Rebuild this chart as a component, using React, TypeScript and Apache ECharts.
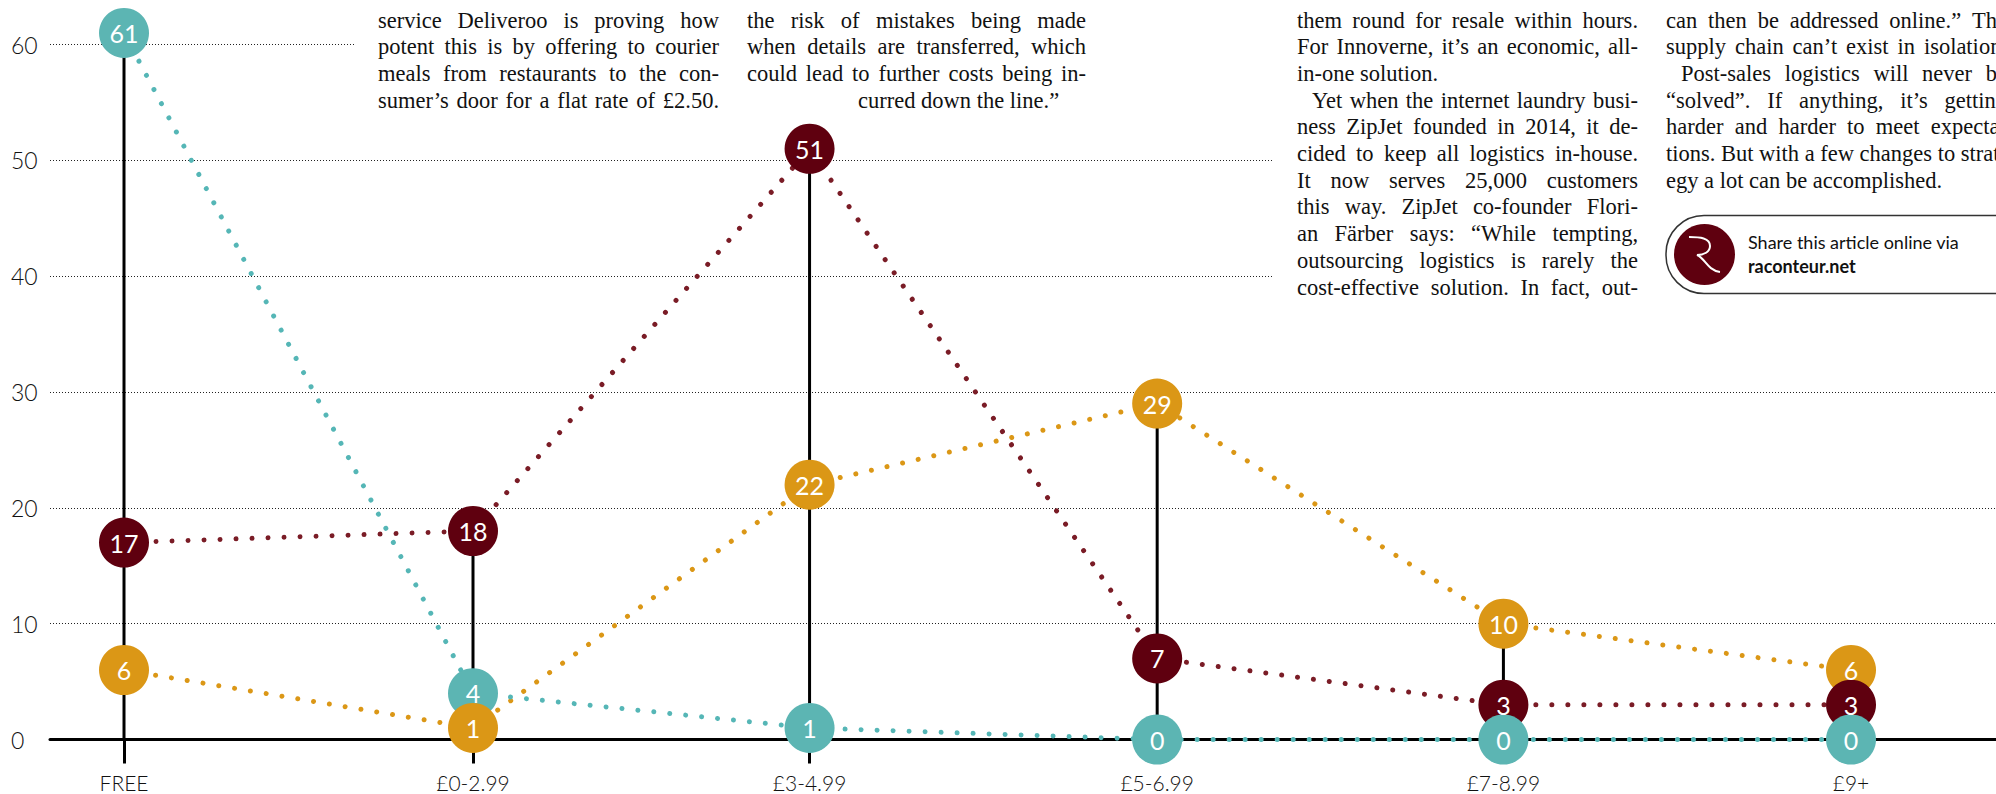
import React, { useEffect, useRef } from "react";
import * as echarts from "echarts";

// Delivery price bands and the share of respondents for each retailer group.
const priceBands = ["FREE", "£0-2.99", "£3-4.99", "£5-6.99", "£7-8.99", "£9+"];
const bandAxisValues = [0, 1.011, 1.986, 2.993, 3.996, 5.003];
const tealValues = [61, 4, 1, 0, 0, 0];
const maroonValues = [17, 18, 51, 7, 3, 3];
const amberValues = [6, 1, 22, 29, 10, 6];
const yTicks = [0, 10, 20, 30, 40, 50, 60];

const TEAL = "#5cb5b3";
const MAROON = "#5f000f";
const AMBER = "#db9716";
const SANS = "Lato, sans-serif";
const SERIF = '"Liberation Serif", serif';
const INK = "#111111";

// Article columns running around the chart. "~" marks a justified line.
const columnOne = [
  "~service Deliveroo is proving how",
  "~potent this is by offering to courier",
  "~meals from restaurants to the con-",
  "~sumer’s door for a flat rate of £2.50.",
];
const columnTwo = [
  "~the risk of mistakes being made",
  "~when details are transferred, which",
  "~could lead to further costs being in-",
];
const columnTwoEnd = "curred down the line.”";
const columnThree = [
  "~them round for resale within hours.",
  "~For Innoverne, it’s an economic, all-",
  "in-one solution.",
  ">~Yet when the internet laundry busi-",
  "~ness ZipJet founded in 2014, it de-",
  "~cided to keep all logistics in-house.",
  "~It now serves 25,000 customers",
  "~this way. ZipJet co-founder Flori-",
  "~an Färber says: “While tempting,",
  "~outsourcing logistics is rarely the",
  "~cost-effective solution. In fact, out-",
];
const columnFour = [
  "~can then be addressed online.” The",
  "~supply chain can’t exist in isolation.",
  ">~Post-sales logistics will never be",
  "~“solved”. If anything, it’s getting",
  "~harder and harder to meet expecta-",
  "~tions. But with a few changes to strat-",
  "egy a lot can be accomplished.",
];

const BODY_SIZE = 22.5;
const LINE_STEP = 26.7;
const FIRST_LINE_Y = 20;

echarts.graphic.registerShape(
  "raconteurMark",
  echarts.graphic.extendPath(
    "M1689 237 C1700 237 1710 238 1710 246 C1710 252 1704 255 1697 255 C1705 258 1707 270 1720 272",
    {}
  )
);

// Lays a column out word by word so that justified lines reach both edges.
function columnWords(lines: string[], left: number, width: number, top: number) {
  const ctx = document.createElement("canvas").getContext("2d")!;
  ctx.font = `${BODY_SIZE}px ${SERIF}`;
  const items: any[] = [];
  lines.forEach((raw, row) => {
    const indent = raw.startsWith(">") ? 15 : 0;
    const justified = raw.includes("~");
    const words = raw.replace(/[>~]/g, "").split(" ");
    const widths = words.map((w) => ctx.measureText(w).width);
    const total = widths.reduce((a, b) => a + b, 0);
    const space = ctx.measureText(" ").width;
    const gap =
      justified && words.length > 1 ? (width - indent - total) / (words.length - 1) : space;
    let x = left + indent;
    words.forEach((word, i) => {
      items.push({
        type: "text",
        x,
        y: top + row * LINE_STEP,
        z: 5,
        style: {
          text: word,
          fill: INK,
          font: `${BODY_SIZE}px ${SERIF}`,
          verticalAlign: "middle",
        },
      });
      x += widths[i] + gap;
    });
  });
  return items;
}

function buildOption() {
  const dottedLine = (name: string, values: number[], color: string, z: number) => ({
    name,
    type: "line",
    z,
    clip: false,
    silent: true,
    showSymbol: false,
    symbol: "none",
    data: values.map((v, i) => [bandAxisValues[i], v]),
    lineStyle: { color, width: 5, type: [0.01, 16], cap: "round" },
  });

  // Circles are drawn tallest value first, so lower values sit on top.
  const markers = [
    ...tealValues.map((v, i) => ({ v, i, color: TEAL })),
    ...maroonValues.map((v, i) => ({ v, i, color: MAROON })),
    ...amberValues.map((v, i) => ({ v, i, color: AMBER })),
  ].sort((a, b) => b.v - a.v);

  const stems = priceBands.map((_, i) => [
    bandAxisValues[i],
    Math.max(tealValues[i], maroonValues[i], amberValues[i]),
  ]);

  return {
    animation: false,
    backgroundColor: "#ffffff",
    grid: { left: 50, right: 0, top: 44.5, bottom: 54.5, outerBoundsMode: "none" },
    xAxis: {
      type: "value",
      min: -0.2144,
      max: 5.423,
      splitLine: { show: false },
      axisLine: { show: true, lineStyle: { color: "#000", width: 3 } },
      axisTick: {
        show: true,
        customValues: bandAxisValues,
        length: 24,
        lineStyle: { color: "#000", width: 3 },
      },
      axisLabel: {
        customValues: bandAxisValues,
        margin: 32,
        fontFamily: SANS,
        fontWeight: 300,
        fontSize: 21,
        color: INK,
        formatter: (value: number) => {
          const i = bandAxisValues.findIndex((b) => Math.abs(b - value) < 1e-6);
          return priceBands[i] ?? "";
        },
      },
    },
    yAxis: {
      type: "value",
      min: yTicks[0],
      max: yTicks[yTicks.length - 1],
      interval: 10,
      axisLine: { show: false },
      axisTick: { show: false },
      axisLabel: {
        margin: 39,
        align: "left",
        fontFamily: SANS,
        fontWeight: 300,
        fontSize: 23,
        color: INK,
      },
      splitLine: { show: true, lineStyle: { color: "#222", width: 1, type: [1, 2] } },
    },
    graphic: [
      // The article columns sit on plain white panels that stop the rules.
      { type: "rect", z: 1, shape: { x: 355, y: 0, width: 1641, height: 100 }, style: { fill: "#fff" } },
      { type: "rect", z: 1, shape: { x: 1273, y: 100, width: 723, height: 200 }, style: { fill: "#fff" } },
      ...columnWords(columnOne, 378, 341, FIRST_LINE_Y),
      ...columnWords(columnTwo, 747, 339, FIRST_LINE_Y),
      {
        type: "text",
        x: 858,
        y: FIRST_LINE_Y + 3 * LINE_STEP,
        z: 5,
        style: {
          text: columnTwoEnd,
          fill: INK,
          font: `${BODY_SIZE}px ${SERIF}`,
          verticalAlign: "middle",
        },
      },
      ...columnWords(columnThree, 1297, 341, FIRST_LINE_Y),
      ...columnWords(columnFour, 1666, 341, FIRST_LINE_Y),
      {
        type: "rect",
        z: 5,
        shape: { x: 1666, y: 215.5, width: 400, height: 78, r: 38 },
        style: { fill: "#fff", stroke: "#333", lineWidth: 1.5 },
      },
      { type: "circle", z: 6, shape: { cx: 1704.5, cy: 254.5, r: 30.5 }, style: { fill: MAROON } },
      {
        type: "raconteurMark",
        z: 7,
        style: { fill: "none", stroke: "#fff", lineWidth: 2 },
      },
      {
        type: "text",
        x: 1748,
        y: 242,
        z: 6,
        style: {
          text: "Share this article online via",
          fill: INK,
          font: `400 18px ${SANS}`,
          verticalAlign: "middle",
        },
      },
      {
        type: "text",
        x: 1748,
        y: 266,
        z: 6,
        style: {
          text: "raconteur.net",
          fill: INK,
          font: `700 18px ${SANS}`,
          verticalAlign: "middle",
        },
      },
    ],
    series: [
      {
        name: "Stems",
        type: "bar",
        z: 2,
        clip: false,
        silent: true,
        barWidth: 3,
        data: stems,
        itemStyle: { color: "#000" },
      },
      dottedLine("Amber", amberValues, AMBER, 3),
      dottedLine("Maroon", maroonValues, "#7a1c26", 3),
      dottedLine("Teal", tealValues, "#55b6b6", 3),
      {
        name: "Values",
        type: "scatter",
        z: 4,
        clip: false,
        silent: true,
        symbolSize: 50,
        data: markers.map((m) => ({
          value: [bandAxisValues[m.i], m.v],
          itemStyle: { color: m.color, opacity: 1 },
        })),
        label: {
          show: true,
          position: "inside",
          color: "#fff",
          fontFamily: SANS,
          fontSize: 25,
          formatter: (p: any) => String(p.value[1]),
        },
      },
    ],
  };
}

export default function App() {
  const ref = useRef<HTMLDivElement>(null);
  useEffect(() => {
    const chart = echarts.init(ref.current!, undefined, { renderer: "svg" });
    chart.setOption(buildOption() as any);
    return () => chart.dispose();
  }, []);
  return (
    <div
      ref={ref}
      style={{ position: "absolute", left: 0, top: 0, width: 1996, height: 794, overflow: "hidden" }}
    />
  );
}
